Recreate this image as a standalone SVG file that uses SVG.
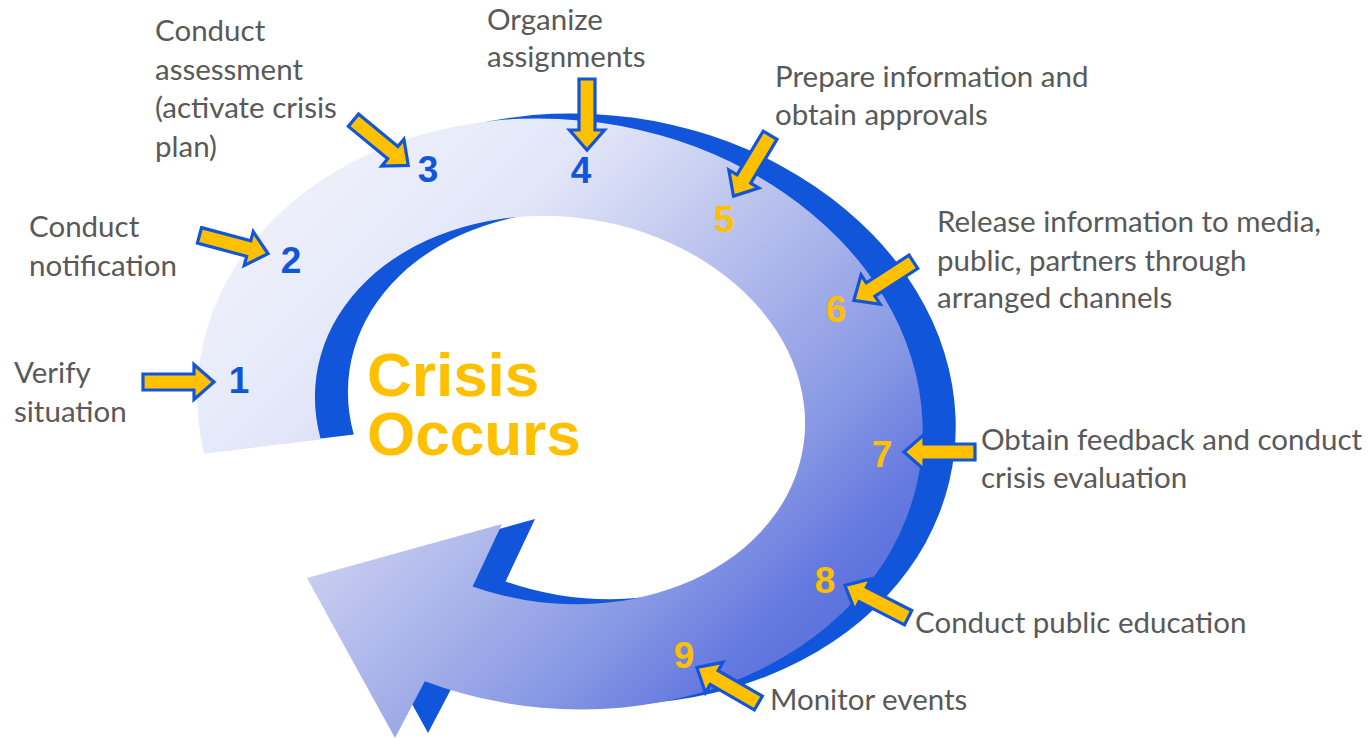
<svg xmlns="http://www.w3.org/2000/svg" xmlns:xlink="http://www.w3.org/1999/xlink" width="1368" height="739" viewBox="0 0 1368 739">
  <style>
    .label { font-family: Lato, "Liberation Sans", sans-serif; font-size: 29.5px; fill: #595959; }
    .num { font-family: "Liberation Sans", Arial, sans-serif; font-weight: bold; font-size: 37px; text-anchor: middle; }
    .num-blue { fill: #1155DB; }
    .num-gold { fill: #FFC000; }
    .title { font-family: "Liberation Sans", Arial, sans-serif; font-weight: bold; font-size: 62px; fill: #FFC000; }
    .pointer { fill: #FFC000; stroke: #1155DB; stroke-width: 3.2; stroke-linejoin: miter; }
  </style>
  <defs>
    <linearGradient id="faceGrad" gradientUnits="userSpaceOnUse" x1="200" y1="120" x2="870" y2="790">
      <stop offset="0" stop-color="#F3F5FD"/>
      <stop offset="0.17" stop-color="#EBEEFA"/>
      <stop offset="0.3" stop-color="#E3E6F8"/>
      <stop offset="0.43" stop-color="#C5CCF0"/>
      <stop offset="0.6" stop-color="#9EAAE8"/>
      <stop offset="0.7" stop-color="#8495E4"/>
      <stop offset="0.8" stop-color="#6479DF"/>
      <stop offset="1" stop-color="#4762DA"/>
    </linearGradient>
    <!-- circular arrow outline: outer arc, arrowhead, inner arc back to the start -->
    <path id="ring" d="M 204 453.7 A 364 294 8 1 1 424.8 681.2 L 395 738 L 307 578 L 502 524 L 472.6 586.4 A 246 193 8 1 0 320.8 439.5 Z"/>
    <!-- block pointer, tip at origin, pointing along +x -->
    <path id="pointer" d="M -72 -8 L -21 -8 L -21 -17.5 L -1 0 L -21 17.5 L -21 8 L -72 8 Z"/>
  </defs>

  <g id="cycle">
    <use xlink:href="#ring" href="#ring" transform="translate(33,-5)" fill="#1155DB"/>
    <use xlink:href="#ring" href="#ring" fill="url(#faceGrad)"/>
  </g>

  <g id="crisis-occurs">
    <text class="title" x="367" y="396">Crisis<tspan x="367" y="455">Occurs</tspan></text>
  </g>

  <g id="connectors">
    <use xlink:href="#pointer" href="#pointer" class="pointer" transform="translate(215,382)"/>
    <use xlink:href="#pointer" href="#pointer" class="pointer" transform="translate(269,254) rotate(15)"/>
    <use xlink:href="#pointer" href="#pointer" class="pointer" transform="translate(409,166) rotate(39.5)"/>
    <use xlink:href="#pointer" href="#pointer" class="pointer" transform="translate(587,151) rotate(90)"/>
    <use xlink:href="#pointer" href="#pointer" class="pointer" transform="translate(733,197) rotate(121)"/>
    <use xlink:href="#pointer" href="#pointer" class="pointer" transform="translate(853,301) rotate(147)"/>
    <use xlink:href="#pointer" href="#pointer" class="pointer" transform="translate(903,452) rotate(180)"/>
    <use xlink:href="#pointer" href="#pointer" class="pointer" transform="translate(844,585) rotate(207)"/>
    <use xlink:href="#pointer" href="#pointer" class="pointer" transform="translate(696,667) rotate(210)"/>
  </g>

  <g id="step-1">
    <text class="num num-blue" x="239" y="393">1</text>
    <text class="label" x="14" y="383">Verify</text>
    <text class="label" x="14" y="422">situation</text>
  </g>
  <g id="step-2">
    <text class="num num-blue" x="291" y="273">2</text>
    <text class="label" x="29" y="237">Conduct</text>
    <text class="label" x="29" y="276">notification</text>
  </g>
  <g id="step-3">
    <text class="num num-blue" x="428" y="182">3</text>
    <text class="label" x="155" y="41">Conduct</text>
    <text class="label" x="155" y="80">assessment</text>
    <text class="label" x="155" y="118">(activate crisis</text>
    <text class="label" x="155" y="157">plan)</text>
  </g>
  <g id="step-4">
    <text class="num num-blue" x="581" y="183">4</text>
    <text class="label" x="487" y="30">Organize</text>
    <text class="label" x="487" y="67">assignments</text>
  </g>
  <g id="step-5">
    <text class="num num-gold" x="724" y="232">5</text>
    <text class="label" x="775" y="87">Prepare information and</text>
    <text class="label" x="775" y="125">obtain approvals</text>
  </g>
  <g id="step-6">
    <text class="num num-gold" x="836" y="322">6</text>
    <text class="label" x="937" y="232">Release information to media,</text>
    <text class="label" x="937" y="271">public, partners through</text>
    <text class="label" x="937" y="308">arranged channels</text>
  </g>
  <g id="step-7">
    <text class="num num-gold" x="882" y="467">7</text>
    <text class="label" x="981" y="450">Obtain feedback and conduct</text>
    <text class="label" x="981" y="488">crisis evaluation</text>
  </g>
  <g id="step-8">
    <text class="num num-gold" x="825" y="593">8</text>
    <text class="label" x="915" y="633">Conduct public education</text>
  </g>
  <g id="step-9">
    <text class="num num-gold" x="684" y="668">9</text>
    <text class="label" x="770" y="710">Monitor events</text>
  </g>
</svg>
